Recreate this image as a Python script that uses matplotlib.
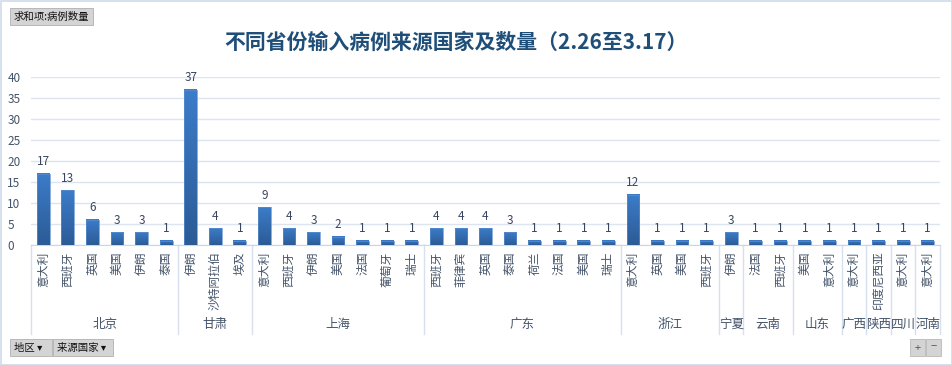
import numpy as np
import matplotlib.pyplot as plt
from matplotlib.colors import LinearSegmentedColormap
from matplotlib.patches import Rectangle

plt.rcParams['font.family'] = ['Noto Sans CJK SC', 'DejaVu Sans']

# data
regions = ['北京', '甘肃', '上海', '广东', '浙江', '宁夏', '云南', '山东', '广西', '陕西', '四川', '河南']
region_sizes = [6, 3, 7, 8, 4, 1, 2, 2, 1, 1, 1, 1]
countries = ['意大利', '西班牙', '英国', '美国', '伊朗', '泰国',
             '伊朗', '沙特阿拉伯', '埃及',
             '意大利', '西班牙', '伊朗', '美国', '法国', '葡萄牙', '瑞士',
             '西班牙', '菲律宾', '英国', '泰国', '荷兰', '法国', '美国', '瑞士',
             '意大利', '英国', '美国', '西班牙',
             '伊朗',
             '法国', '西班牙',
             '美国', '意大利',
             '意大利',
             '印度尼西亚',
             '意大利',
             '意大利']
cases = [17, 13, 6, 3, 3, 1,
         37, 4, 1,
         9, 4, 3, 2, 1, 1, 1,
         4, 4, 4, 3, 1, 1, 1, 1,
         12, 1, 1, 1,
         3,
         1, 1,
         1, 1,
         1,
         1,
         1,
         1]
yticks = [0, 5, 10, 15, 20, 25, 30, 35, 40]

W, H = 953, 365
fig = plt.figure(figsize=(W / 100, H / 100), dpi=100)
fig.patch.set_facecolor('white')

# plot area in pixels: x 31..940, y 77..245
ax = fig.add_axes([31 / W, (H - 245) / H, (940 - 31) / W, (245 - 77) / H])
n = len(countries)
x = np.arange(n)

bar_cmap = LinearSegmentedColormap.from_list('bar', ['#2C5B96', '#3C7CC9'])
grad = np.linspace(0, 1, 64).reshape(-1, 1)
bw = 0.52
for xi, v in zip(x, cases):
    ax.imshow(grad, extent=[xi - bw / 2, xi + bw / 2, 0, v], origin='lower',
              cmap=bar_cmap, aspect='auto', zorder=3)
    ax.add_patch(Rectangle((xi - bw / 2, 0), bw, v, fill=False,
                           edgecolor='#5B8DD0', linewidth=0.5, zorder=4))
    ax.annotate(str(v), (xi, v), xytext=(0, 4), textcoords='offset points',
                ha='center', va='bottom', fontsize=8.5, color='#3A4660')

ax.set_xlim(-0.5, n - 0.5)
ax.set_ylim(0, 40)
ax.set_yticks(yticks)
ax.set_yticklabels([str(t) for t in yticks], fontsize=8.5, color='#44546A')
ax.tick_params(axis='y', length=0, pad=17)
for lab in ax.get_yticklabels():
    lab.set_horizontalalignment('left')
ax.set_xticks([])
ax.grid(axis='y', color='#DCE4F0', linewidth=1)
ax.set_axisbelow(True)
for s in ['top', 'right', 'left']:
    ax.spines[s].set_visible(False)
ax.spines['bottom'].set_color('#C9D6E8')

# category labels, rotated
tr = ax.get_xaxis_transform()
for xi, c in zip(x, countries):
    ax.text(xi, -0.04, c, rotation=90, ha='center', va='top', fontsize=8.5,
            color='#44546A', transform=tr, clip_on=False)

# region labels and separators
edges = np.concatenate([[0], np.cumsum(region_sizes)]) - 0.5
for e in edges:
    ax.plot([e, e], [0, -0.53], transform=tr, color='#D6E0EE', linewidth=1,
            clip_on=False)
for i, r in enumerate(regions):
    mid = (edges[i] + edges[i + 1]) / 2
    ax.text(mid, -0.475, r, ha='center', va='center', fontsize=9,
            color='#44546A', transform=tr, clip_on=False)

fig.text(456 / W, 1 - 42 / H, '不同省份输入病例来源国家及数量（2.26至3.17）',
         ha='center', va='center', fontsize=15, fontweight='bold', color='#1F4E79')

# pivot field buttons
def button(x0, y0, w, h, text):
    fig.patches.append(Rectangle((x0 / W, 1 - (y0 + h) / H), w / W, h / H,
                                 transform=fig.transFigure, facecolor='#D4D4D4',
                                 edgecolor='#B0B0B0', linewidth=0.6))
    fig.text((x0 + 4) / W, 1 - (y0 + h / 2) / H, text, ha='left', va='center',
             fontsize=7.5, color='#111111')

button(10, 8, 83, 17, '求和项:病例数量')
button(10, 339, 42, 17, '地区 ▾')
button(53, 339, 60, 17, '来源国家 ▾')
fig.patches.append(Rectangle((910 / W, 1 - 356 / H), 15 / W, 17 / H, transform=fig.transFigure,
                             facecolor='#D4D4D4', edgecolor='#B8B8B8', linewidth=0.6))
fig.patches.append(Rectangle((926 / W, 1 - 356 / H), 15 / W, 17 / H, transform=fig.transFigure,
                             facecolor='#D4D4D4', edgecolor='#B8B8B8', linewidth=0.6))
fig.text(917.5 / W, 1 - 347.5 / H, '+', ha='center', va='center', fontsize=8, color='#555555')
fig.text(933.5 / W, 1 - 347.5 / H, '−', ha='center', va='center', fontsize=8, color='#555555')

# outer frame
fig.patches.append(Rectangle((0.5 / W, 0.5 / H), 1 - 1.5 / W, 1 - 1.5 / H,
                             transform=fig.transFigure, fill=False,
                             edgecolor='#D0DCEB', linewidth=1.2))

fig.savefig('out.png', dpi=100)
